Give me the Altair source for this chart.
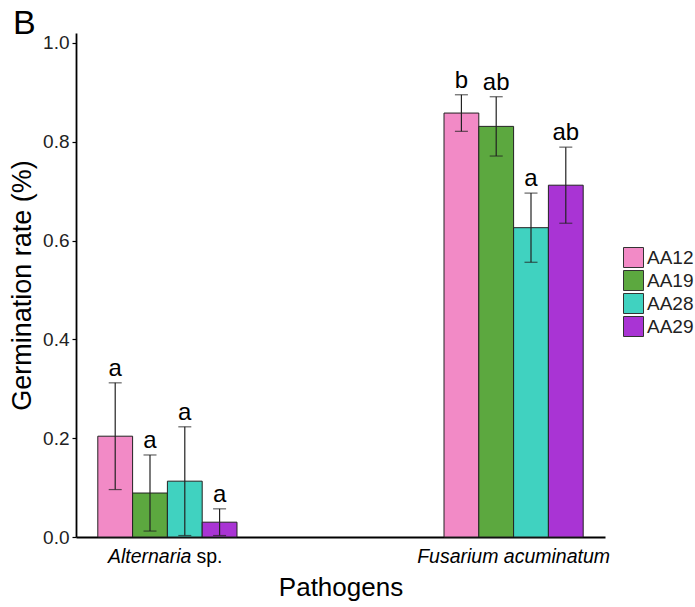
import altair as alt
import pandas as pd

pathogens = ["Alternaria sp.", "Fusarium acuminatum"]
strains = ["AA12", "AA19", "AA28", "AA29"]
colors = ["#F28AC6", "#5CA83F", "#40D2C0", "#A934D4"]
means_alt = [0.204, 0.089, 0.113, 0.030]
errs_alt = [0.108, 0.077, 0.110, 0.027]
letters_alt = ["a", "a", "a", "a"]
means_fus = [0.858, 0.831, 0.626, 0.712]
errs_fus = [0.037, 0.060, 0.070, 0.077]
letters_fus = ["b", "ab", "a", "ab"]

rows = []
for p, means, errs, lets in [(pathogens[0], means_alt, errs_alt, letters_alt),
                             (pathogens[1], means_fus, errs_fus, letters_fus)]:
    for s, m, e, l in zip(strains, means, errs, lets):
        rows.append({"pathogen": p, "strain": s, "mean": m,
                     "lower": max(m - e, 0.003), "upper": m + e, "letter": l})
df = pd.DataFrame(rows)

# x-axis label parts (mixed italic / upright)
lab_df = pd.DataFrame({
    "pathogen": [pathogens[0], pathogens[0], pathogens[1]],
    "part": ["Alternaria", "sp.", "Fusarium acuminatum"],
    "side": ["right", "left", "center"],
})

FONT = "Liberation Sans"
W, H = 529, 504

x_enc = alt.X("pathogen:N", sort=pathogens,
              scale=alt.Scale(paddingInner=0.598, paddingOuter=0.063),
              axis=alt.Axis(title="Pathogens", labels=False, ticks=False,
                            domainColor="black", domainWidth=1.8,
                            titleFontSize=26, titleFont=FONT, titleFontWeight="normal",
                            titleColor="black", titlePadding=37))
xo_enc = alt.XOffset("strain:N", sort=strains,
                     scale=alt.Scale(paddingInner=0, paddingOuter=0))
y_scale = alt.Scale(domain=[0, 1.02], nice=False, zero=True)

base = alt.Chart(df)

bars = base.mark_bar(stroke="#222222", strokeWidth=1).encode(
    x=x_enc, xOffset=xo_enc,
    y=alt.Y("mean:Q", scale=y_scale,
            axis=alt.Axis(title="Germination rate (%)", values=[0, 0.2, 0.4, 0.6, 0.8, 1.0],
                          format=".1f", grid=False, domainColor="black", domainWidth=1.8,
                          tickColor="black", tickSize=4, tickWidth=1.2,
                          labelFontSize=19, labelFont=FONT, labelColor="#222222",
                          labelPadding=3,
                          titleFontSize=27, titleFont=FONT, titleFontWeight="normal",
                          titleColor="black", titlePadding=6)),
    color=alt.Color("strain:N", sort=strains,
                    scale=alt.Scale(domain=strains, range=colors),
                    legend=alt.Legend(title=None, orient="none", legendX=547, legendY=214,
                                      symbolType="square", symbolSize=400,
                                      symbolStrokeColor="#333333", symbolStrokeWidth=1,
                                      symbolOpacity=1, rowPadding=-6,
                                      labelFontSize=19, labelFont=FONT, labelColor="#222222",
                                      labelOffset=3)),
)

rules = base.mark_rule(color="#222222", strokeWidth=1.2).encode(
    x=alt.X("pathogen:N", sort=pathogens), xOffset=xo_enc,
    y="lower:Q", y2="upper:Q")

caps_top = base.mark_tick(color="#222222", size=13, thickness=1.2).encode(
    x=alt.X("pathogen:N", sort=pathogens), xOffset=xo_enc, y="upper:Q")
caps_bot = base.mark_tick(color="#222222", size=13, thickness=1.2).encode(
    x=alt.X("pathogen:N", sort=pathogens), xOffset=xo_enc, y="lower:Q")

letters = base.mark_text(baseline="bottom", dy=-2, fontSize=24, font=FONT,
                         color="black").encode(
    x=alt.X("pathogen:N", sort=pathogens), xOffset=xo_enc, y="upper:Q", text="letter:N")

lab_base = alt.Chart(lab_df)
lab_right = lab_base.transform_filter(alt.datum.side == "right").mark_text(
    align="right", baseline="top", fontSize=19.5, font=FONT, fontStyle="italic",
    color="black", dx=24, dy=11).encode(
    x=alt.X("pathogen:N", sort=pathogens), y=alt.value(H), text="part:N")
lab_left = lab_base.transform_filter(alt.datum.side == "left").mark_text(
    align="left", baseline="top", fontSize=19.5, font=FONT, fontStyle="normal",
    color="black", dx=29, dy=11).encode(
    x=alt.X("pathogen:N", sort=pathogens), y=alt.value(H), text="part:N")
lab_center = lab_base.transform_filter(alt.datum.side == "center").mark_text(
    align="center", baseline="top", fontSize=19.5, font=FONT, fontStyle="italic",
    color="black", dy=11).encode(
    x=alt.X("pathogen:N", sort=pathogens), y=alt.value(H), text="part:N")

chart = alt.layer(bars, rules, caps_top, caps_bot, letters,
                  lab_right, lab_left, lab_center).properties(
    width=W, height=H,
    title=alt.TitleParams("B", anchor="start", frame="group", dx=-63, offset=-8,
                          fontSize=34, font=FONT, fontWeight="normal", color="black"),
    autosize=alt.AutoSizeParams(type="none"),
    padding={"left": 76, "top": 33, "right": 90, "bottom": 70},
).configure_view(stroke=None)

chart.save("out.html", embed_options={"renderer": "svg", "actions": False})
